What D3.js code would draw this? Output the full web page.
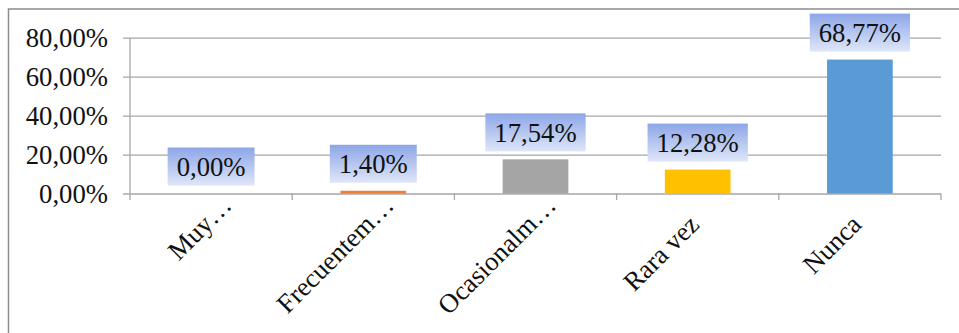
<!DOCTYPE html>
<html>
<head>
<meta charset="utf-8">
<script src="https://cdn.jsdelivr.net/npm/d3@7"></script>
<style>
  html, body { margin: 0; padding: 0; background: #fff; }
  svg { display: block; }
  text { font-family: "Liberation Serif", "Times New Roman", serif; fill: #111; }
</style>
</head>
<body>
<svg id="chart" width="959" height="333"></svg>
<script>
// Categories and values (percent)
const categories = ["Muy…", "Frecuentem…", "Ocasionalm…", "Rara vez", "Nunca"];
const values = [0.00, 1.40, 17.54, 12.28, 68.77];
const barColors = ["#4472C4", "#ED7D31", "#A5A5A5", "#FFC000", "#5B9BD5"];
const yTicks = [0, 20, 40, 60, 80];

const fmt = v => v.toFixed(2).replace(".", ",") + "%";

const svg = d3.select("#chart");
const W = 959, H = 333;
const plot = { left: 130, right: 941, top: 37.7, bottom: 193.5 };
const fontSize = 26.7;

// Chart frame
svg.append("rect")
  .attr("x", 8.5).attr("y", 9)
  .attr("width", W + 20).attr("height", H + 20)
  .attr("fill", "#fff")
  .attr("stroke", "#8c8c8c")
  .attr("stroke-width", 1.5);

// Gradient for data label boxes
const defs = svg.append("defs");
const grad = defs.append("linearGradient")
  .attr("id", "labelFill").attr("x1", 0).attr("y1", 0).attr("x2", 0).attr("y2", 1);
grad.append("stop").attr("offset", "0%").attr("stop-color", "#8DA6E7");
grad.append("stop").attr("offset", "100%").attr("stop-color", "#DFE6F8");

const x = d3.scaleBand().domain(categories).range([plot.left, plot.right]).padding(0);
const y = d3.scaleLinear().domain([0, 80]).range([plot.bottom, plot.top]);

const gridColor = "#a6a6a6";

// Horizontal gridlines with outward tick marks
const yAxis = d3.axisLeft(y)
  .tickValues(yTicks)
  .tickSize(-(plot.right - plot.left))
  .tickSizeOuter(0)
  .tickPadding(22)
  .tickFormat(fmt);
const gy = svg.append("g")
  .attr("transform", `translate(${plot.left},0)`)
  .call(yAxis);
gy.select(".domain").remove();
gy.selectAll(".tick line")
  .attr("x1", -7)
  .attr("stroke", gridColor)
  .attr("stroke-width", 1.3);
gy.selectAll(".tick text")
  .attr("font-size", fontSize)
  .attr("font-family", "Liberation Serif")
  .attr("fill", "#111")
  .attr("dy", "0.34em");

// Vertical axis line
svg.append("line")
  .attr("x1", plot.left).attr("x2", plot.left)
  .attr("y1", plot.top).attr("y2", plot.bottom)
  .attr("stroke", gridColor).attr("stroke-width", 1.3);

// Category boundary ticks below the baseline
const boundaries = categories.map(c => x(c)).concat([x(categories[categories.length - 1]) + x.bandwidth()]);
svg.append("g").selectAll("line")
  .data(boundaries)
  .join("line")
  .attr("x1", d => d).attr("x2", d => d)
  .attr("y1", plot.bottom).attr("y2", plot.bottom + 6.5)
  .attr("stroke", gridColor).attr("stroke-width", 1.3);

// Bars
const barW = x.bandwidth() * 0.405;
svg.append("g").selectAll("rect")
  .data(categories)
  .join("rect")
  .attr("x", (c) => x(c) + (x.bandwidth() - barW) / 2)
  .attr("y", (c, i) => y(values[i]))
  .attr("width", barW)
  .attr("height", (c, i) => plot.bottom - y(values[i]))
  .attr("fill", (c, i) => barColors[i]);

// Data labels in gradient boxes
const labels = svg.append("g");
categories.forEach((c, i) => {
  const cx = x(c) + x.bandwidth() / 2;
  const boxBottom = y(values[i]) - 8;
  const boxH = 38;
  const g = labels.append("g");
  const t = g.append("text")
    .attr("x", cx)
    .attr("y", boxBottom - boxH / 2)
    .attr("dy", "0.36em")
    .attr("text-anchor", "middle")
    .attr("font-size", fontSize)
    .text(fmt(values[i]));
  const tw = t.node().getComputedTextLength();
  g.insert("rect", "text")
    .attr("x", cx - tw / 2 - 9)
    .attr("y", boxBottom - boxH)
    .attr("width", tw + 18)
    .attr("height", boxH)
    .attr("fill", "url(#labelFill)");
});

// Rotated category labels
svg.append("g").selectAll("text")
  .data(categories)
  .join("text")
  .attr("text-anchor", "end")
  .attr("font-size", fontSize)
  .attr("transform", c => {
    const cx = x(c) + x.bandwidth() / 2;
    // truncated labels sit further along the text direction
    const shift = c.endsWith("…") ? 27 : 0;
    const px = cx + 3 + shift * Math.SQRT1_2;
    const py = plot.bottom + 32.5 - shift * Math.SQRT1_2;
    return `translate(${px},${py}) rotate(-45)`;
  })
  .text(c => c);
</script>
</body>
</html>
